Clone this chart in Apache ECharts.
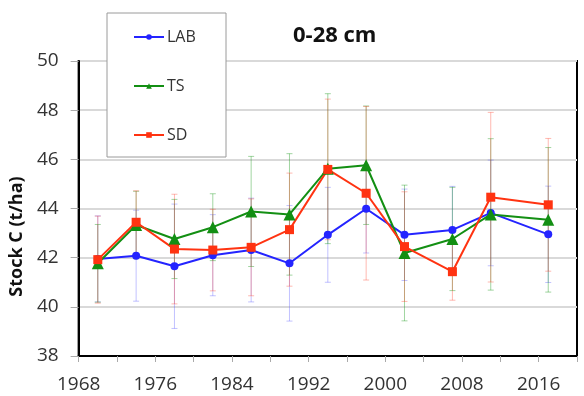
<!DOCTYPE html>
<html>
<head>
<meta charset="utf-8">
<script src="https://cdn.jsdelivr.net/npm/echarts@6/dist/echarts.min.js"></script>
<style>
  html, body { margin: 0; padding: 0; background: #fff; }
  #chart { width: 584px; height: 396px; }
</style>
</head>
<body>
<div id="chart"></div>
<script>
const years = [1970, 1974, 1978, 1982, 1986, 1990, 1994, 1998, 2002, 2007, 2011, 2017];

const lab = [41.95, 42.08, 41.65, 42.1, 42.31, 41.77, 42.93, 43.99, 42.93, 43.13, 43.82, 42.95];
const ts = [41.77, 43.33, 42.76, 43.24, 43.88, 43.76, 45.62, 45.76, 42.19, 42.76, 43.76, 43.54];
const sd = [41.92, 43.44, 42.35, 42.31, 42.42, 43.14, 45.59, 44.62, 42.45, 41.43, 44.46, 44.15];

// half width of the error bars
const labErr = [1.75, 1.85, 2.53, 1.65, 2.11, 2.35, 1.93, 1.8, 1.86, 1.77, 2.15, 1.96];
const tsErr = [1.58, 1.37, 1.61, 1.36, 2.24, 2.47, 3.05, 2.41, 2.76, 2.1, 3.08, 2.94];
const sdErr = [1.77, 1.28, 2.23, 1.66, 1.97, 2.3, 2.86, 3.53, 2.23, 1.16, 3.45, 2.7];

const font = '"Open Sans", sans-serif';

const chart = echarts.init(document.getElementById('chart'));

function points(values) {
  return years.map((y, i) => [y, values[i]]);
}

function bars(values, errs) {
  return years.map((y, i) => [y, values[i] - errs[i], values[i] + errs[i]]);
}

function errorSeries(name, values, errs, color) {
  return {
    name: name + ' err',
    type: 'custom',
    z: 1,
    silent: true,
    data: bars(values, errs),
    renderItem: (params, api) => {
      const lo = api.coord([api.value(0), api.value(1)]);
      const hi = api.coord([api.value(0), api.value(2)]);
      const style = { stroke: color, lineWidth: 1 };
      return {
        type: 'group',
        children: [
          { type: 'line', shape: { x1: lo[0], y1: lo[1], x2: hi[0], y2: hi[1] }, style },
          { type: 'line', shape: { x1: hi[0] - 3, y1: hi[1], x2: hi[0] + 3, y2: hi[1] }, style },
          { type: 'line', shape: { x1: lo[0] - 3, y1: lo[1], x2: lo[0] + 3, y2: lo[1] }, style },
        ],
      };
    },
  };
}

function lineSeries(name, values, color, symbol, size) {
  return {
    name,
    type: 'line',
    z: 3,
    data: points(values),
    symbol,
    symbolSize: size,
    lineStyle: { color, width: 2 },
    itemStyle: { color },
  };
}

const option = {
  animation: false,
  title: {
    text: '0-28 cm',
    left: 288,
    top: 20,
    textStyle: { fontFamily: font, fontSize: 22, fontWeight: 'bold', color: '#111' },
  },
  graphic: [{
    type: 'rect',
    z: 10,
    shape: { x: 107, y: 13, width: 119, height: 144 },
    style: { fill: '#fff', stroke: '#9a9a9a', lineWidth: 1 },
  }],
  legend: {
    z: 11,
    orient: 'vertical',
    left: 133,
    top: 29,
    padding: 0,
    itemWidth: 30,
    itemHeight: 7,
    itemGap: 33,
    data: ['LAB', 'TS', 'SD'],
    textStyle: { fontFamily: font, fontSize: 16, color: '#333', padding: [0, 0, 0, -2] },
  },
  grid: {
    left: 77,
    right: 7,
    top: 61,
    bottom: 40,
    show: true,
    borderColor: '#000',
    borderWidth: 2,
  },
  xAxis: {
    type: 'value',
    min: 1968,
    max: 2020,
    interval: 4,
    axisLine: { lineStyle: { color: '#000', width: 2 } },
    axisTick: { length: 6, lineStyle: { color: '#aaa' } },
    splitLine: { show: false },
    axisLabel: {
      margin: 19,
      fontFamily: font,
      fontSize: 19,
      color: '#333',
      formatter: v => ((v - 1968) % 8 === 0 && v < 2020 ? String(v) : ''),
    },
  },
  yAxis: {
    type: 'value',
    min: 38,
    max: 50,
    interval: 2,
    name: 'Stock C (t/ha)',
    nameLocation: 'middle',
    nameGap: 47,
    nameTextStyle: { fontFamily: font, fontSize: 18, fontWeight: 'bold', color: '#111', padding: [0, 56, 0, 0] },
    axisLine: { show: true, lineStyle: { color: '#000', width: 2 } },
    axisTick: { show: true, length: 8, lineStyle: { color: '#aaa' } },
    splitLine: { lineStyle: { color: '#d9d9d9', width: 2 } },
    axisLabel: { margin: 20, fontFamily: font, fontSize: 19, color: '#333' },
  },
  series: [
    errorSeries('LAB', lab, labErr, 'rgba(80,80,255,0.35)'),
    errorSeries('TS', ts, tsErr, 'rgba(20,150,20,0.4)'),
    errorSeries('SD', sd, sdErr, 'rgba(255,70,50,0.38)'),
    lineSeries('LAB', lab, '#2424ff', 'circle', 8),
    lineSeries('TS', ts, '#138f13', 'triangle', 12),
    lineSeries('SD', sd, '#ff3311', 'rect', 9),
  ],
};

chart.setOption(option);
</script>
</body>
</html>
